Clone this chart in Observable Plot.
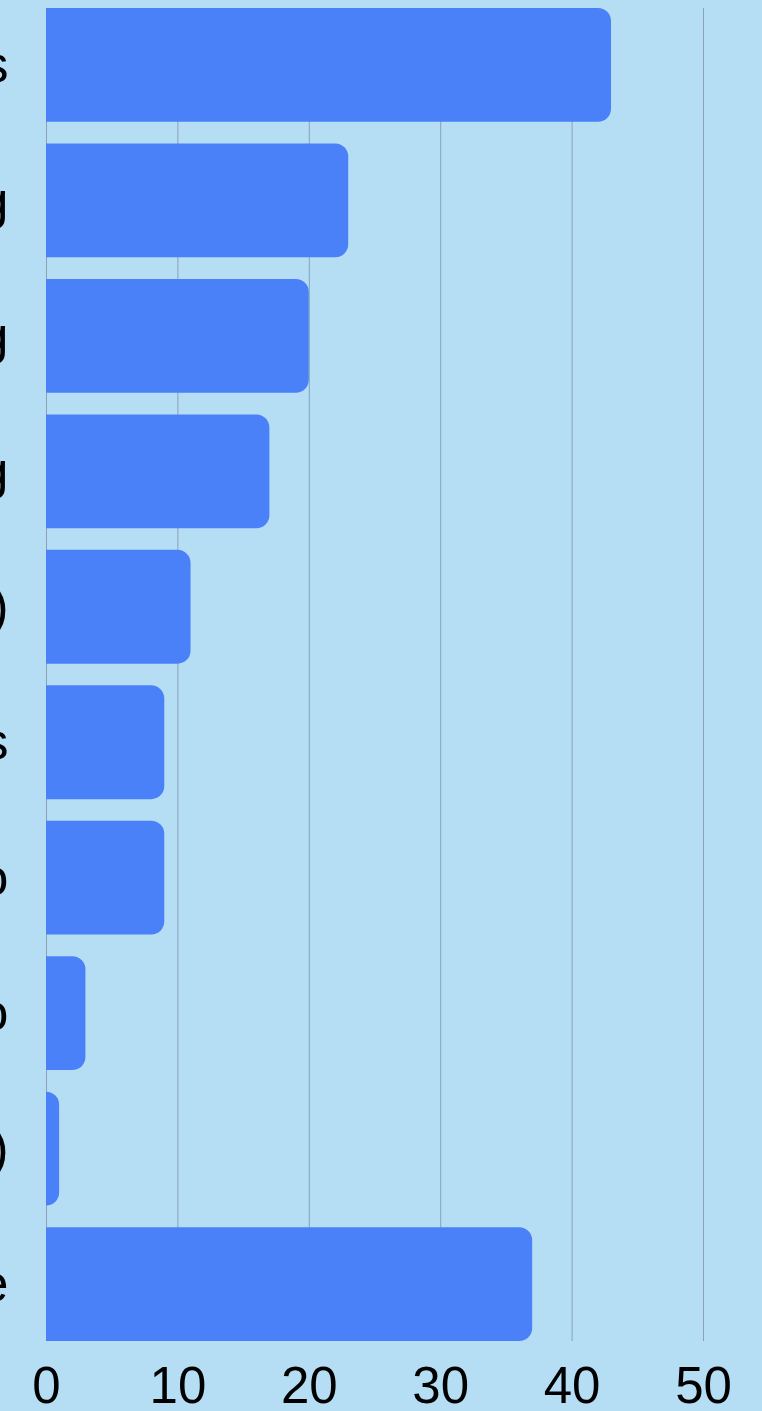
<!DOCTYPE html>
<html>
<head>
<meta charset="utf-8">
<script src="https://cdn.jsdelivr.net/npm/d3@7"></script>
<script src="https://cdn.jsdelivr.net/npm/@observablehq/plot@0.6"></script>
<style>
  html, body { margin: 0; padding: 0; background: #b5def5; }
  #chart { width: 762px; height: 1411px; overflow: hidden; }
</style>
</head>
<body>
<div id="chart"></div>
<script>
// Category labels (cut off at the left edge in the reference; only their last letters show)
const categories = [
  "Unit tests",
  "Logging",
  "Type checking",
  "Profiling",
  "Error tracking (Sentry)",
  "Integration tests",
  "Monorepo",
  "Turbo",
  "Other (please specify)",
  "None"
];
const values = [43, 23, 20, 17, 11, 9, 9, 3, 1, 37];
const xTicks = [0, 10, 20, 30, 40, 50];

const data = categories.map((label, i) => ({label, value: values[i]}));

const barColor = "#4a80f8";

const chart = Plot.plot({
  width: 762,
  height: 1411,
  marginTop: 8,
  marginBottom: 70,
  marginLeft: 46,
  marginRight: 59,
  style: {
    background: "#b5def5",
    color: "black",
    fontFamily: "'Liberation Sans', Arial, Helvetica, sans-serif",
    overflow: "visible"
  },
  x: {domain: [0, 50]},
  y: {domain: categories, paddingInner: 0.16, paddingOuter: 0, round: false},
  marks: [
    Plot.gridX(xTicks, {stroke: "#8aa2b4", strokeOpacity: 1, strokeWidth: 1}),
    // bars start left of zero and are clipped at the frame so only the right corners are rounded
    Plot.barX(data, {x1: -1, x2: "value", y: "label", fill: barColor, rx: 13, clip: true}),
    Plot.axisX({ticks: xTicks, tickSize: 0, tickPadding: 25, fontSize: 51, label: null}),
    Plot.axisY({tickSize: 0, tickPadding: 38, fontSize: 52, label: null})
  ]
});
document.getElementById("chart").appendChild(chart);
</script>
</body>
</html>
